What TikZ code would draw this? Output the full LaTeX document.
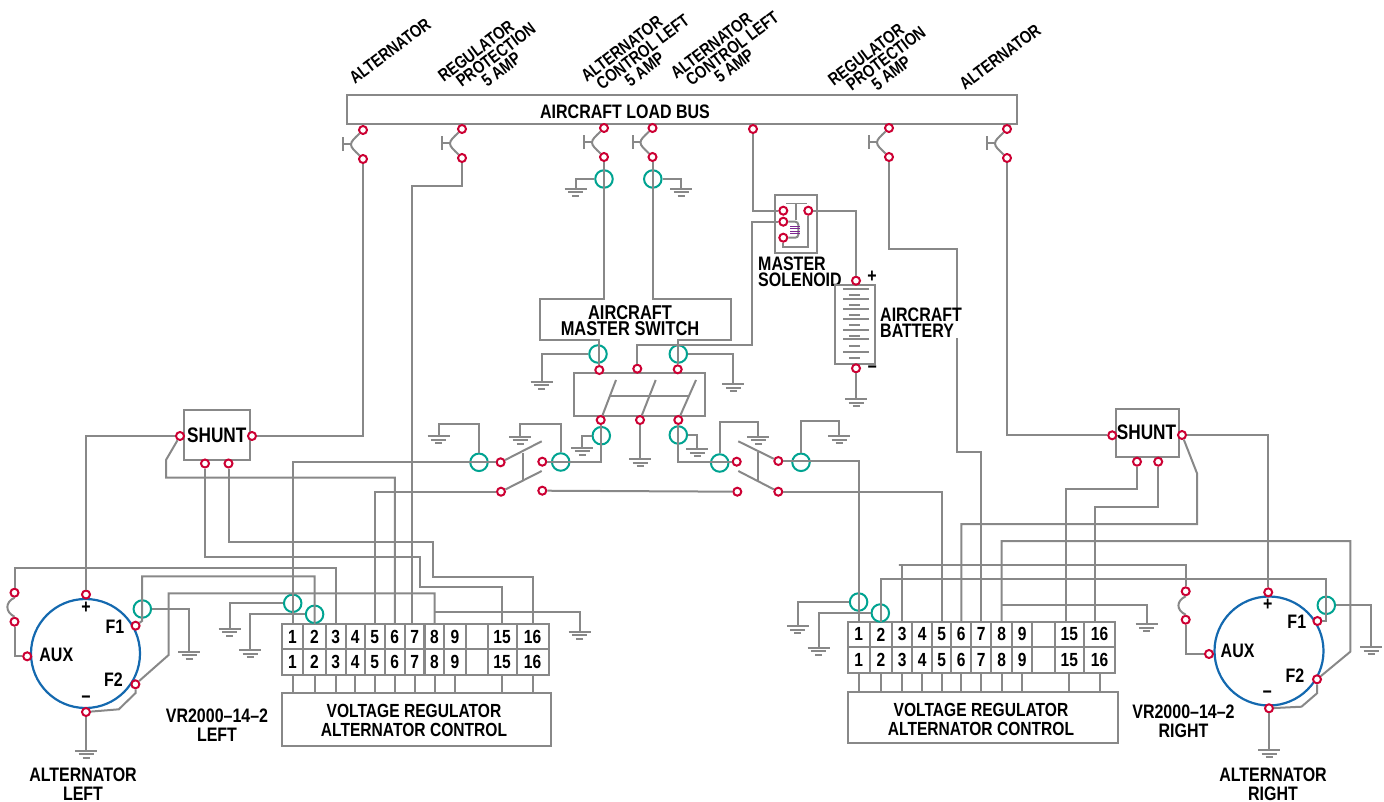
\documentclass[tikz,border=0pt]{standalone}
\usepackage{fontspec}
\setmainfont{Liberation Sans}[FakeStretch=0.82]
\usepackage{tikz}
\usetikzlibrary{positioning}

\definecolor{wiregray}{RGB}{136,136,136}
\definecolor{termred}{RGB}{204,0,51}
\definecolor{ringgreen}{RGB}{0,163,145}
\definecolor{altblue}{RGB}{20,105,175}
\definecolor{coilpurple}{RGB}{125,40,145}

\tikzset{
  wire/.style={draw=wiregray, line width=2pt},
  term/.style={circle, draw=termred, fill=white, line width=2pt, inner sep=0pt, minimum size=8pt},
  ring/.style={circle, draw=ringgreen, line width=2pt, inner sep=0pt, minimum size=17.5pt},
  box/.style={rectangle, draw=wiregray, line width=2pt, inner sep=0pt, outer sep=0pt},
  cell/.style={box, minimum height=25.5pt, font=\bfseries\fontsize{19}{19}\selectfont},
  txt/.style={inner sep=0pt, align=center, font=\bfseries\fontsize{19.5}{19}\selectfont},
  vrtxt/.style={inner sep=0pt, align=center, font=\bfseries\fontsize{19}{19}\selectfont},
  tight/.style={inner sep=0pt, align=left, font=\bfseries\fontsize{19.5}{16}\selectfont},
  slant/.style={inner sep=0pt, align=center, rotate=37, font=\bfseries\fontsize{17.5}{15}\selectfont},
  altcircle/.style={circle, draw=altblue, line width=2.2pt, inner sep=0pt, minimum size=109pt}
}

% ground: three bars under a named point
\newcommand{\gnd}[3]{
  \coordinate (#1) at (#2,#3);
  \draw[wire] (#2-11,#3) -- (#2+11,#3);
  \draw[wire] (#2-7.5,#3+3.5) -- (#2+7.5,#3+3.5);
  \draw[wire] (#2-3.5,#3+7) -- (#2+3.5,#3+7);
}
% breaker: two terminals and the toggle beside them
\newcommand{\breaker}[3]{
  \node[term] (#1a) at (#2,#3) {};
  \node[term] (#1b) at (#2,#3+29) {};
  \draw[wire] (#1a) .. controls (#2-8,#3+8) and (#2-12,#3+11) .. (#2-12,#3+14.5) .. controls (#2-12,#3+18) and (#2-8,#3+21) .. (#1b);
  \draw[wire] (#2-12,#3+14.5) -- (#2-20,#3+14.5);
  \draw[wire] (#2-20,#3+7.5) -- (#2-20,#3+21.5);
}
% pin pair of a connector with its lead to the regulator box
\newcommand{\pinpair}[6][]{
  \node[cell, minimum width=#4] (#2t#3) at (#5,#6) {#3#1};
  \node[cell, minimum width=#4, below=0pt of #2t#3] (#2b#3) {#3#1};
  \draw[wire] (#2b#3.south) -- (#2b#3.south |- vr#2.north);
}
\newcommand{\lft}{\hspace{6pt}}

\begin{document}
\begin{tikzpicture}[x=1pt,y=-1pt]
\useasboundingbox (0,0) rectangle (1384,802);

\node[box, minimum width=670pt, minimum height=29pt] (bus) at (682,109.5) {};
\node[txt] (lblBus) at (625,112) {AIRCRAFT LOAD BUS};

\node[slant] (lblAltL) at (390,51) {ALTERNATOR};
\node[slant] (lblRegL) at (485,63) {REGULATOR\\\hspace*{27pt}PROTECTION\\\hspace*{18pt}5 AMP};
\node[slant] (lblCtlA) at (630.8,60.9) {ALTERNATOR\\\hspace*{30pt}CONTROL LEFT\\\hspace*{12pt}5 AMP};
\node[slant] (lblCtlB) at (720.3,57.4) {ALTERNATOR\\\hspace*{30pt}CONTROL LEFT\\\hspace*{12pt}5 AMP};
\node[slant] (lblRegR) at (875,66.5) {REGULATOR\\\hspace*{27pt}PROTECTION\\\hspace*{18pt}5 AMP};
\node[slant] (lblAltR) at (1000,57) {ALTERNATOR};

\breaker{bkA}{363}{130}
\breaker{bkB}{462}{129}
\breaker{bkC}{604}{128}
\breaker{bkD}{652.5}{128}
\breaker{bkE}{889}{128}
\breaker{bkF}{1007}{129}
\node[term] (tBus) at (753,129) {};

\node[ring] (rCtlA) at (604,179) {};
\node[ring] (rCtlB) at (652.8,179) {};
\gnd{gCtlA}{575.6}{189}
\gnd{gCtlB}{681}{189}

%
\node[box, minimum width=42pt, minimum height=58pt] (sol) at (796,224) {};
\node[term] (solA) at (783.3,210.7) {};
\node[term] (solB) at (783.3,221.7) {};
\node[term] (solC) at (783.3,237.7) {};
\node[term] (solD) at (808.3,210.7) {};
\node[tight, anchor=west] (lblSol) at (758,272) {MASTER\\SOLENOID};

\node[box, minimum width=40pt, minimum height=79pt] (bat) at (855,324.5) {};
\node[term] (batP) at (856,280.7) {};
\node[term] (batM) at (856,368.3) {};
\node[txt] (lblP) at (872,276.7) {+};
\node[txt] (lblM) at (872.3,369.7) {−};
\gnd{gBat}{856}{399}

%
\node[txt, font=\bfseries\fontsize{20}{16}\selectfont] (lblMaster) at (630,321) {AIRCRAFT\\MASTER SWITCH};
\node[box, minimum width=130.7pt, minimum height=43pt] (msw) at (639.6,394.5) {};
\node[term] (mswA) at (599.3,370) {};
\node[term] (mswB) at (637.3,368.7) {};
\node[term] (mswC) at (677.7,369.3) {};
\node[term] (mswD) at (600.7,420) {};
\node[term] (mswE) at (640,420) {};
\node[term] (mswF) at (678.3,420) {};
\node[ring] (rMswA) at (598,354) {};
\node[ring] (rMswC) at (678.3,354) {};
\node[ring] (rMswD) at (601.3,435.7) {};
\node[ring] (rMswF) at (678.3,435) {};
\gnd{gMswA}{541.7}{381.7}
\gnd{gMswC}{733.3}{384.3}
\gnd{gMswD}{582.3}{447.7}
\gnd{gMswE}{640}{459}
\gnd{gMswF}{697.3}{449.3}

%
\node[term] (swLa) at (500.6,462.3) {};
\node[term] (swLb) at (542.3,461.7) {};
\node[term] (swLc) at (501,491.7) {};
\node[term] (swLd) at (542.3,490.7) {};
\node[term] (swRa) at (736.7,461.7) {};
\node[term] (swRb) at (778.3,461) {};
\node[term] (swRc) at (737.3,491.7) {};
\node[term] (swRd) at (778.3,491.7) {};
\node[ring] (rSwLa) at (479,462.3) {};
\node[ring] (rSwLb) at (560.7,462) {};
\node[ring] (rSwRa) at (719.7,463) {};
\node[ring] (rSwRb) at (801,462.3) {};
\gnd{gSwLa}{438.5}{436}
\gnd{gSwLb}{520}{436.7}
\gnd{gSwRa}{758.3}{436.7}
\gnd{gSwRb}{839}{436}

%
\node[box, minimum width=66.5pt, minimum height=50pt] (shL) at (216.8,435) {};
\node[txt, font=\bfseries\fontsize{21}{19}\selectfont] (lblShL) at (216.8,435.5) {SHUNT};
\node[term] (shLl) at (180,436) {};
\node[term] (shLr) at (252,436) {};
\node[term] (shLa) at (205,463.5) {};
\node[term] (shLb) at (228.5,463.5) {};

\node[box, minimum width=63pt, minimum height=48.6pt] (shR) at (1147.2,433) {};
\node[txt, font=\bfseries\fontsize{21}{19}\selectfont] (lblShR) at (1146.5,432.5) {SHUNT};
\node[term] (shRl) at (1112.2,435.3) {};
\node[term] (shRr) at (1182,435) {};
\node[term] (shRa) at (1137,461.7) {};
\node[term] (shRb) at (1158.2,461.7) {};

%
\node[altcircle] (altL) at (85.5,653.5) {};
\node[term] (altLp) at (86,594.5) {};
\node[term] (altLm) at (86,712) {};
\node[term] (altLa) at (27.2,656.3) {};
\node[term] (altLf) at (135.6,625.7) {};
\node[term] (altLg) at (135.4,684.3) {};
\node[term] (jpLa) at (14.5,592.7) {};
\node[term] (jpLb) at (14.5,621.7) {};
\node[txt] (lblLp) at (86,608) {+};
\node[txt] (lblLm) at (86,700) {−};
\node[txt] (lblLa) at (56.3,655) {AUX};
\node[txt] (lblLf) at (115,626.5) {F1};
\node[txt] (lblLg) at (113.4,680) {F2};
\node[ring] (rLf) at (142.3,609) {};
\gnd{gLf}{189}{651.7}
\gnd{gLm}{86}{750.7}
\node[txt] (lblAltLeft) at (83,784) {ALTERNATOR\\LEFT};
\node[txt] (lblVrL) at (217,725) {VR2000–14–2\\LEFT};

\node[altcircle] (altR) at (1269,651) {};
\node[term] (altRp) at (1268.2,592.3) {};
\node[term] (altRm) at (1269,708.3) {};
\node[term] (altRa) at (1209,654) {};
\node[term] (altRf) at (1317.4,621) {};
\node[term] (altRg) at (1317,679.3) {};
\node[term] (jpRa) at (1185.7,591.3) {};
\node[term] (jpRb) at (1185.7,619.7) {};
\node[txt] (lblRp) at (1267.8,605) {+};
\node[txt] (lblRm) at (1267.4,695) {−};
\node[txt] (lblRa) at (1237.6,650.7) {AUX};
\node[txt] (lblRf) at (1296.8,621.7) {F1};
\node[txt] (lblRg) at (1295,676) {F2};
\node[ring] (rRf) at (1326.3,605.3) {};
\gnd{gRf}{1371}{647.3}
\gnd{gRm}{1269}{750}
\node[txt] (lblAltRight) at (1273,784) {ALTERNATOR\\RIGHT};
\node[txt] (lblVrR) at (1183.5,721) {VR2000–14–2\\RIGHT};

%
\node[box, minimum width=269.4pt, minimum height=52.7pt] (vrl) at (416.3,719.4) {};
\node[vrtxt] (lblVrBoxL) at (414,720) {VOLTAGE REGULATOR\\ALTERNATOR CONTROL};
\pinpair{l}{1}{21.8}{292.5}{636.7}
\pinpair{l}{2}{22.3}{314.5}{636.7}
\pinpair[\lft]{l}{3}{19.9}{335.6}{636.7}
\pinpair{l}{4}{19.4}{355.3}{636.7}
\pinpair[\lft]{l}{5}{19.7}{374.8}{636.7}
\pinpair{l}{6}{20.3}{394.8}{636.7}
\pinpair[\lft]{l}{7}{19.5}{414.7}{636.7}
\pinpair{l}{8}{19.9}{434.5}{636.7}
\pinpair[\lft]{l}{9}{21.1}{455}{636.7}
\pinpair[\lft]{l}{15}{28.8}{502.1}{636.7}
\pinpair[\lft]{l}{16}{32.2}{532.6}{636.7}
\node[cell, minimum width=22.2] (ltx) at (476.6,636.7) {};
\node[cell, minimum width=22.2, below=0pt of ltx] (lbx) {};
\node[ring] (rPinLa) at (292.7,603.3) {};
\node[ring] (rPinLb) at (314.6,614.3) {};
\gnd{gPinLa}{229.5}{628.7}
\gnd{gPinLb}{250.2}{650}
\gnd{gPinLc}{579.7}{631.7}

\node[box, minimum width=270.2pt, minimum height=51.6pt] (vrr) at (982.9,717.5) {};
\node[vrtxt] (lblVrBoxR) at (981,719) {VOLTAGE REGULATOR\\ALTERNATOR CONTROL};
\pinpair{r}{1}{22}{858.8}{634.4}
\pinpair{r}{2}{22.5}{881}{634.4}
\pinpair[\lft]{r}{3}{20.1}{902.3}{634.4}
\pinpair{r}{4}{19.4}{922.1}{634.4}
\pinpair[\lft]{r}{5}{19.7}{941.6}{634.4}
\pinpair{r}{6}{19.7}{961.3}{634.4}
\pinpair[\lft]{r}{7}{19.8}{981.1}{634.4}
\pinpair{r}{8}{21.3}{1001.6}{634.4}
\pinpair[\lft]{r}{9}{20.1}{1022.3}{634.4}
\pinpair[\lft]{r}{15}{29}{1069.4}{634.4}
\pinpair[\lft]{r}{16}{31.4}{1099.6}{634.4}
\node[cell, minimum width=22.5] (rtx) at (1043.6,634.4) {};
\node[cell, minimum width=22.5, below=0pt of rtx] (rbx) {};
\node[ring] (rPinRa) at (858.6,602) {};
\node[ring] (rPinRb) at (880.3,613) {};
\gnd{gPinRa}{797.8}{626}
\gnd{gPinRb}{818.7}{647.7}
\gnd{gPinRc}{1146.6}{624}

%
\draw[wire] (bkAb) |- (shLr);
\draw[wire] (bkBb) -- (462,186) -| ([xshift=-2.4pt]lt7.north);
\draw[wire] (bkCb) -- (604,299) -| (540,340) -| (mswA);
\draw[wire] (bkDb) -- (652.5,299) -| (731.3,340) -| (mswC);
\draw[wire] (rCtlA.west) -| (gCtlA);
\draw[wire] (rCtlB.east) -| (gCtlB);
\draw[wire] (tBus) |- (solA);
\draw[wire] (bkEb) |- (956.7,249.3) |- (980,451.7) -| (rt7.north);
\draw[wire] (bkFb) |- (shRl);

%
\draw[wire] (solB) -| (752.3,345.3) -| (mswB);
\draw[wire, rounded corners=3pt] (solB) -| (798.3,237.7) -- (solC);
\draw[wire, line width=1.5pt] (786,203.3) -- (806.7,203.3);
\draw[wire, line width=1.5pt] (796,203.3) -- (796,220);
\draw[wire] (solD) -- (808.3,246.7) -| (solC);
\draw[wire] (solD) -| (batP);
\draw[coilpurple, line width=1.1pt] (790,226.5) -- (800,226.5) (790,228.8) -- (800,228.8) (790,231.1) -- (800,231.1) (790,233.4) -- (800,233.4);
\draw[wire] (batM) -- (gBat);
\draw[wire, line width=1.8pt] (843.3,289.3) -- (868.7,289.3) (849.3,295.3) -- (860,295.3) (843.3,299.3) -- (868.7,299.3) (849.3,305) -- (860,305) (843.3,308.7) -- (868.7,308.7) (849.3,315) -- (860,315) (843.3,319.3) -- (868.7,319.3) (849.3,325.3) -- (860,325.3) (843.3,329.7) -- (868.7,329.7) (849.3,335.7) -- (860,335.7) (843.3,339.3) -- (868.7,339.3) (849.3,345.7) -- (860,345.7) (843.3,352.3) -- (868.7,352.3) (849.3,358.3) -- (860,358.3);
\node[tight, anchor=west, fill=white] (lblBat) at (880,323) {AIRCRAFT\\BATTERY};

%
\draw[wire] (rMswA.west) -| (gMswA);
\draw[wire] (rMswC.east) -| (gMswC);
\draw[wire] (rMswD.west) -| (gMswD);
\draw[wire] (rMswF.east) -| (gMswF);
\draw[wire] (mswE) -- (gMswE);
\draw[wire] (mswD) -- (616,380);
\draw[wire] (mswE) -- (655.7,380);
\draw[wire] (mswF) -- (696,380);
\draw[wire] (609,396) -- (689.3,396);
\draw[wire] (mswD) |- (swLb);
\draw[wire] (mswF) |- (swRa);
\draw[wire] (swLd) -- (swRc);

%
\draw[wire] (swLa) -- (541.7,441.3);
\draw[wire] (swLc) -- (541.7,471);
\draw[wire] (523.3,452.7) -- (523.3,480);
\draw[wire] (swRb) -- (738.3,441.3);
\draw[wire] (swRd) -- (738.3,471);
\draw[wire] (758.3,451.7) -- (758.3,480.7);
\draw[wire] (rSwLa.north) |- (438.5,424.3) -- (gSwLa);
\draw[wire] (rSwLb.north) |- (520,424.3) -- (gSwLb);
\draw[wire] (rSwRa.north) |- (758.3,422) -- (gSwRa);
\draw[wire] (rSwRb.north) |- (839,421.3) -- (gSwRb);

%
\draw[wire] (swLa) -| (lt1.north);
\draw[wire] (swLc) -| (lt5.north);
\draw[wire] (swRb) -| (rt1.north);
\draw[wire] (swRd) -| (rt5.north);
\draw[wire] (rPinLa.west) -| (gPinLa);
\draw[wire] (rPinLb.west) -| (gPinLb);
\draw[wire] (rPinRa.west) -| (gPinRa);
\draw[wire] (rPinRb.west) -| (gPinRb);

%
\draw[wire] (shLl) -| (altLp);
\draw[wire] (shLl) -- (166,460) -- (166,477.7) -| (lt6.north);
\draw[wire] (shLa) |- (420,557) -- (420,587) -| (lt15.north);
\draw[wire] (shLb) |- (433,542) -- (433,577) -| (lt16.north);
\draw[wire] (altLm) -- (gLm);
\draw[wire] (altLa) -| (jpLb);
\draw[wire] (jpLa.south) .. controls (5,602) and (5,612) .. (jpLb.north);
\draw[wire] (jpLa) |- (336.8,567.7) -| (lt3.north);
\draw[wire] (altLf) -- (142,621) -- (142,576.3) -| (lt2.north);
\draw[wire] (rLf.east) -| (gLf);
\draw[wire] (altLg) -- (168.6,655) -- (168.6,593.3) -| (lt8.north);
\draw[wire] (lt8.north |- gPinLc) ++(0,-20) -| (gPinLc);
\draw[wire] (altLg) -- (135.6,693) -- (118.8,709.3) -- (altLm);

%
\draw[wire] (shRr) -| (altRp);
\draw[wire] (shRr) -- (1197,473.3) -- (1197,524) -| (rt6.north);
\draw[wire] (shRa) |- (1066,489) -- ([xshift=-3.4pt]rt15.north);
\draw[wire] (shRb) |- (1095,507) -- ([xshift=-4.6pt]rt16.north);
\draw[wire] (altRm) -- (gRm);
\draw[wire] (altRa) -| (jpRb);
\draw[wire] (jpRa.south) .. controls (1176,601) and (1176,610) .. (jpRb.north);
\draw[wire] (jpRa) |- (898.9,565) -| (rt3.north);
\draw[wire] (altRf) -| (1325.9,579) -| (rt2.north);
\draw[wire] (rRf.east) -| (gRf);
\draw[wire] (altRg) -- (1350.3,651.7) -- (1350.3,541) -| (rt8.north);
\draw[wire] (rt8.north |- gPinRc) ++(0,-19) -| (gPinRc);
\draw[wire] (altRg) -- (1317,693.3) -- (1301.5,706.7) -- (altRm);
\end{tikzpicture}
\end{document}
